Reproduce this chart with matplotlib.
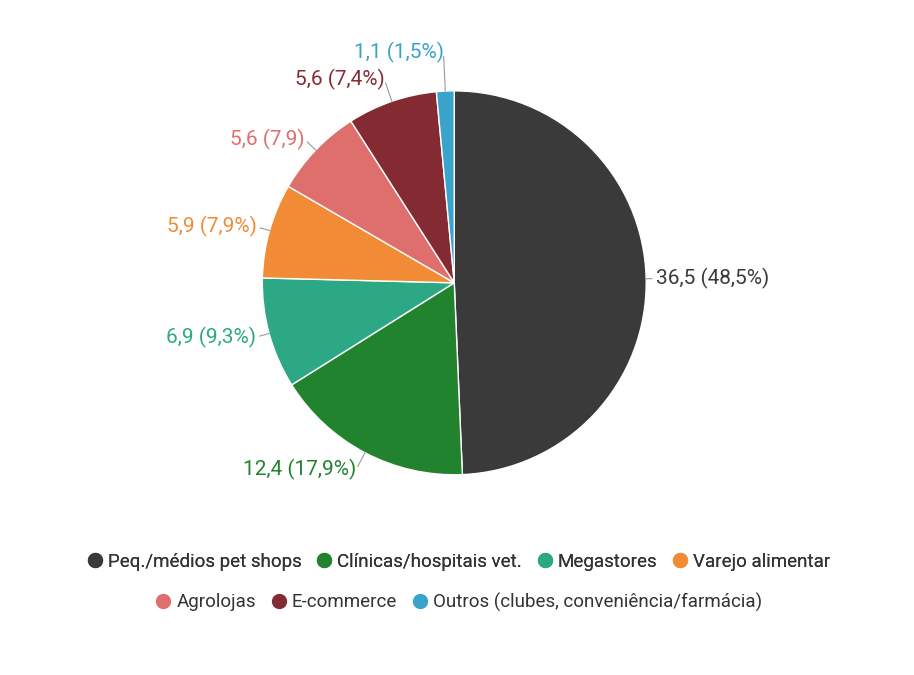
import numpy as np
import matplotlib.pyplot as plt
from matplotlib.lines import Line2D

plt.rcParams['font.family'] = ['Roboto', 'DejaVu Sans']

categories = ["Peq./médios pet shops", "Clínicas/hospitais vet.", "Megastores",
              "Varejo alimentar", "Agrolojas", "E-commerce",
              "Outros (clubes, conveniência/farmácia)"]
values = [36.5, 12.4, 6.9, 5.9, 5.6, 5.6, 1.1]
labels = ["36,5 (48,5%)", "12,4 (17,9%)", "6,9 (9,3%)", "5,9 (7,9%)",
          "5,6 (7,9)", "5,6 (7,4%)", "1,1 (1,5%)"]
colors = ["#3a3a3a", "#22832e", "#2ca884", "#f28b35", "#de6f6c", "#842a33", "#3aa3cc"]
label_dist = [1.05, 1.1, 1.07, 1.07, 1.08, 1.12, 1.2]

fig = plt.figure(figsize=(9.14, 6.75), dpi=100)
ax = fig.add_axes([0.161, 0.126, 0.672, 0.91])
wedges, _ = ax.pie(values, colors=colors, startangle=90, counterclock=False,
                   wedgeprops=dict(edgecolor='white', linewidth=1))
ax.set_xlim(-1.6, 1.6)
ax.set_ylim(-1.6, 1.6)
ax.set_aspect('equal')

for w, lab, c, d in zip(wedges, labels, colors, label_dist):
    ang = np.deg2rad((w.theta1 + w.theta2) / 2)
    x, y = np.cos(ang), np.sin(ang)
    ha = 'left' if x > 0.1 else 'right'
    ax.plot([x, (d - 0.02) * x], [y, (d - 0.02) * y], color='#999999', lw=0.8)
    ax.text(d * x, d * y, lab, color=c, fontsize=15, ha=ha, va='center')

def row(items, ypos):
    handles = [Line2D([], [], marker='o', ls='', color=colors[i], markersize=10) for i in items]
    leg = fig.legend(handles, [categories[i] for i in items], loc='center',
                     bbox_to_anchor=(0.5, ypos), ncol=len(items), frameon=False,
                     fontsize=13.5, handletextpad=0.1, columnspacing=0.6,
                     handlelength=1.2)
    for t in leg.get_texts():
        t.set_color('#333333')
    return leg

fig.add_artist(row([0, 1, 2, 3], 1 - 562 / 675))
row([4, 5, 6], 1 - 602 / 675)

fig.savefig('out.png', dpi=100)
